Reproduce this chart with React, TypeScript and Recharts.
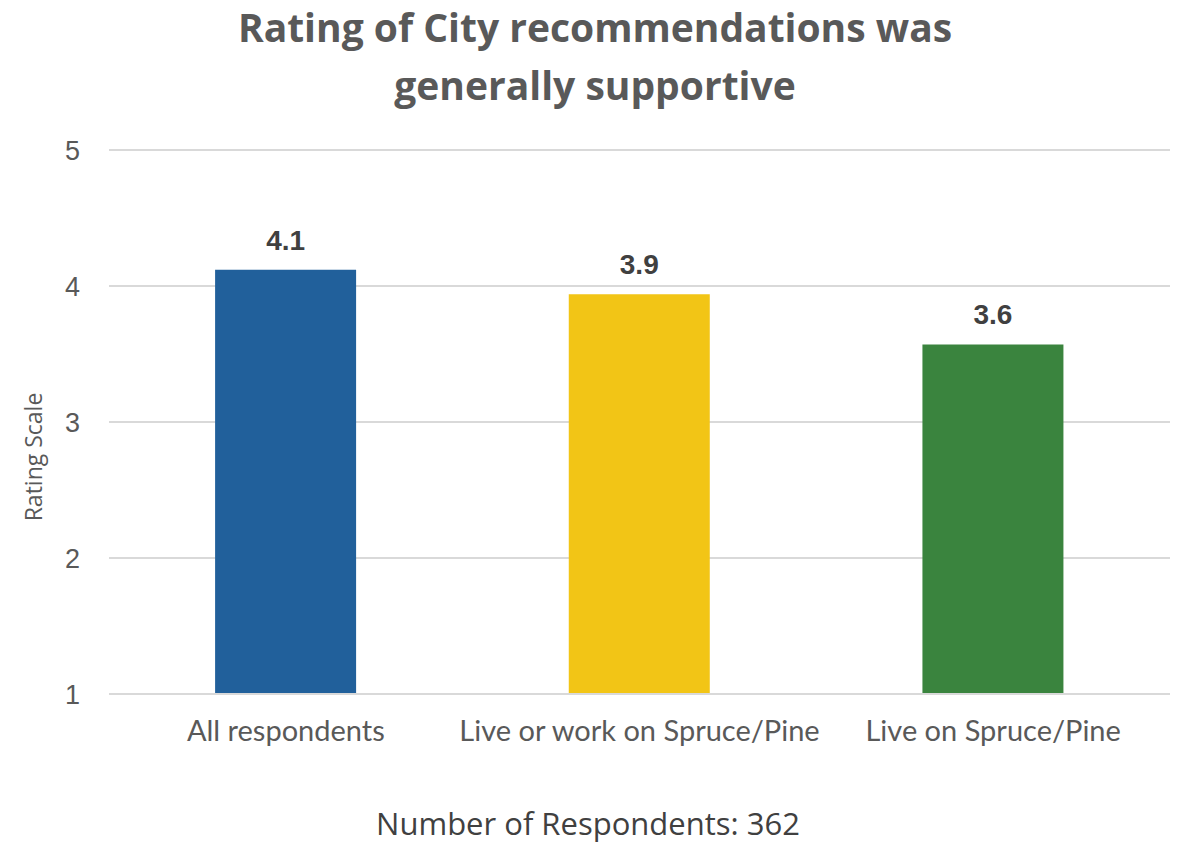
import { BarChart, Bar, XAxis, YAxis, CartesianGrid, Cell, LabelList } from 'recharts'

const categories = ['All respondents', 'Live or work on Spruce/Pine', 'Live on Spruce/Pine']
const ratings = [4.12, 3.94, 3.57]
const barColors = ['#21609b', '#f2c516', '#3a843e']
const yTicks = [1, 2, 3, 4, 5]

const titleLines = ['Rating of City recommendations was', 'generally supportive']
const yAxisTitle = 'Rating Scale'
const footnote = 'Number of Respondents: 362'

const lato = 'Lato, "Noto Sans", sans-serif'
const open = '"Open Sans", "Noto Sans", sans-serif'
const plain = '"Liberation Sans", Arial, sans-serif'

export default function App() {
  const data = categories.map((name, i) => ({ name, value: ratings[i] }))

  return (
    <div style={{ position: 'fixed', left: 0, top: 0, width: 1178, height: 846, background: '#fff' }}>
      {/* title */}
      <div
        style={{
          position: 'absolute',
          left: 0,
          top: -2,
          width: 1190,
          textAlign: 'center',
          fontFamily: open,
          fontWeight: 700,
          fontSize: 39,
          lineHeight: '58px',
          color: '#595959',
        }}
      >
        {titleLines.map((t) => (
          <div key={t}>{t}</div>
        ))}
      </div>

      {/* rotated y axis title */}
      <div
        style={{
          position: 'absolute',
          left: 33,
          top: 457,
          transform: 'translate(-50%, -50%) rotate(-90deg)',
          whiteSpace: 'nowrap',
          fontFamily: open,
          fontSize: 23,
          lineHeight: '23px',
          color: '#595959',
        }}
      >
        {yAxisTitle}
      </div>

      <BarChart
        width={1178}
        height={846}
        data={data}
        margin={{ top: 150, right: 8, left: 0, bottom: 0 }}
        barCategoryGap="30%"
      >
        <CartesianGrid vertical={false} stroke="#d9d9d9" strokeWidth={2} />
        <XAxis
          dataKey="name"
          height={152}
          tickSize={0}
          tickMargin={26}
          axisLine={{ stroke: '#d9d9d9', strokeWidth: 2 }}
          tick={{ fill: '#595959', fontSize: 29, fontFamily: lato }}
        />
        <YAxis
          domain={[1, 5]}
          ticks={yTicks}
          width={109}
          tickSize={0}
          tickMargin={29}
          axisLine={false}
          tick={{ fill: '#595959', fontSize: 27, fontFamily: plain }}
        />
        <Bar dataKey="value" isAnimationActive={false}>
          {data.map((d, i) => (
            <Cell key={d.name} fill={barColors[i]} />
          ))}
          <LabelList
            dataKey="value"
            position="top"
            offset={20}
            formatter={(v: number) => v.toFixed(1)}
            style={{ fill: '#404040', fontSize: 28, fontWeight: 700, fontFamily: plain }}
          />
        </Bar>
      </BarChart>

      {/* footnote */}
      <div
        style={{
          position: 'absolute',
          left: 0,
          top: 808,
          width: 1176,
          textAlign: 'center',
          fontFamily: open,
          fontSize: 31,
          lineHeight: '31px',
          color: '#404040',
        }}
      >
        {footnote}
      </div>
    </div>
  )
}
